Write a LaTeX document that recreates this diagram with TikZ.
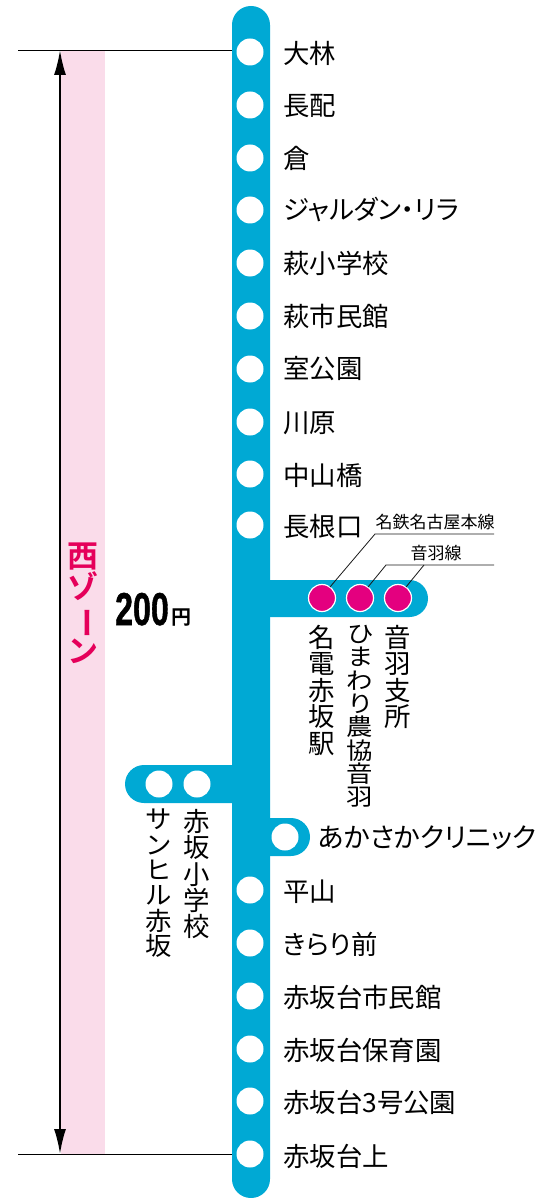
\documentclass[tikz,border=0pt]{standalone}
\usepackage{fontspec}
\usepackage{graphicx}
\usetikzlibrary{arrows.meta}
\setmainfont[RawFeature=+palt]{Noto Sans CJK JP}
\newfontfamily\cjkb{Noto Sans CJK JP Bold}
\newfontfamily\numb[FakeBold=1.2]{Liberation Sans Bold}
\definecolor{lineblue}{HTML}{00A9D4}
\definecolor{dotred}{HTML}{E4007F}
\definecolor{zonepink}{HTML}{FADCEA}
\definecolor{zonered}{HTML}{E5005A}
\tikzset{
 x=1pt,y=-1pt,
 stn/.style={circle,fill=white,minimum size=27pt,inner sep=0pt},
 mstn/.style={circle,fill=dotred,draw=white,line width=1.2pt,minimum size=27pt,inner sep=0pt},
 lab/.style={anchor=west,inner sep=0pt,font=\fontsize{26.4}{27}\selectfont},
 vlab/.style={anchor=north,inner sep=0pt,align=center,font=\fontsize{26.4}{26.4}\selectfont},
 small/.style={inner sep=0pt,font=\fontsize{17}{18}\selectfont},
 lead/.style={draw=black!90,line width=0.8pt},
 rail/.style={fill=lineblue},
}
\begin{document}
\begin{tikzpicture}
\useasboundingbox (0,0) rectangle (540,1198);
% zone
\fill[zonepink] (61,50) rectangle (105,1154);
\coordinate (zt1) at (18,50); \coordinate (zt2) at (236,50);
\coordinate (zb1) at (18,1154); \coordinate (zb2) at (236,1154);
\draw[line width=0.8pt] (zt1)--(zt2);
\draw[line width=0.8pt] (zb1)--(zb2);
\coordinate (at) at (60,50); \coordinate (ab) at (60,1154);
\draw[line width=2pt,-{Latex[length=25pt,width=12pt]}] (60,300)--(at);
\draw[line width=2pt,-{Latex[length=25pt,width=12pt]}] (60,300)--(ab);
% rails
\fill[rail,rounded corners=18.9pt] (232,6) rectangle (270,1198);
\fill[rail] (240,580) -- (240,617) {[rounded corners=18.5pt] -- (428,617) -- (428,580)} -- cycle;
\fill[rail] (240,765) -- (240,803) {[rounded corners=19pt] -- (125,803) -- (125,765)} -- cycle;
\fill[rail] (260,818) -- (260,856) {[rounded corners=19pt] -- (310,856) -- (310,818)} -- cycle;
% stations
\foreach \n/\yy/\ly/\t in {a/52/53/大林,b/105/106/長配,c/158/158/倉,d/210/210/ジャルダン・リラ,e/263/263/萩小学校,f/316/316/萩市民館,g/369/369/室公園,h/422/423/川原,i/474/475/中山橋,j/525/527/長根口,p/890/892/平山,q/943/944/きらり前,r/996/997/赤坂台市民館,s/1049/1050/赤坂台保育園,t/1101/1102/赤坂台3号公園,u/1154/1156/赤坂台上}{
 \node[stn] (s\n) at (250,\yy) {};
 \node[lab] (l\n) at (283,\ly) {\t};
}
\node[stn] (sk) at (285,837) {};
\node[lab,font=\fontsize{26.9}{28}\selectfont] (lk) at (318,838) {あかさかクリニック};
\node[stn] (sv) at (159,784) {};
\node[stn] (sw) at (197,784) {};
\node[vlab,yscale=0.96] (lv) at (159,809) {サ\\ン\\ヒ\\ル\\赤\\坂};
\node[vlab] (lw) at (197,809) {赤\\坂\\小\\学\\校};
% magenta
\node[mstn] (m1) at (322,598) {};
\node[mstn] (m2) at (360,598) {};
\node[mstn] (m3) at (398,598) {};
\node[vlab] (v1) at (322,625) {名\\電\\赤\\坂\\駅};
\node[vlab,yscale=0.885] (v2) at (360,625) {ひ\\ま\\わ\\り\\農\\協\\音\\羽};
\node[vlab] (v3) at (398,625) {音\\羽\\支\\所};
% leaders
\coordinate (n1) at (375,534); \coordinate (n1e) at (494,534);
\coordinate (n2) at (386,565); \coordinate (n3) at (424,565); \coordinate (n2e) at (494,565);
\draw[lead] (m1.north east)++(-2,-1)--(n1)--(n1e);
\draw[lead] (m2.north east)++(-2,-1)--(n2)--(n2e);
\draw[lead] (m3.north east)++(-2,-1)--(n3);
\node[small] (t1) at (435,522) {名鉄名古屋本線};
\node[small] (t2) at (436,553) {音羽線};
% zone labels
\node[inner sep=0pt,anchor=north,align=center,text=zonered,font=\cjkb\fontsize{31}{31}\selectfont] (zl) at (83,543) {西\\ゾ\\\rotatebox[origin=c]{-90}{ー}\\ン};
\node[inner sep=0pt,anchor=base west,xscale=0.70,font=\numb\fontsize{46}{47}\selectfont] (pr) at (115,625) {200};
\node[inner sep=0pt,anchor=base west,font=\cjkb\fontsize{20}{20}\selectfont] (yen) at (171,624) {円};
\end{tikzpicture}
\end{document}
